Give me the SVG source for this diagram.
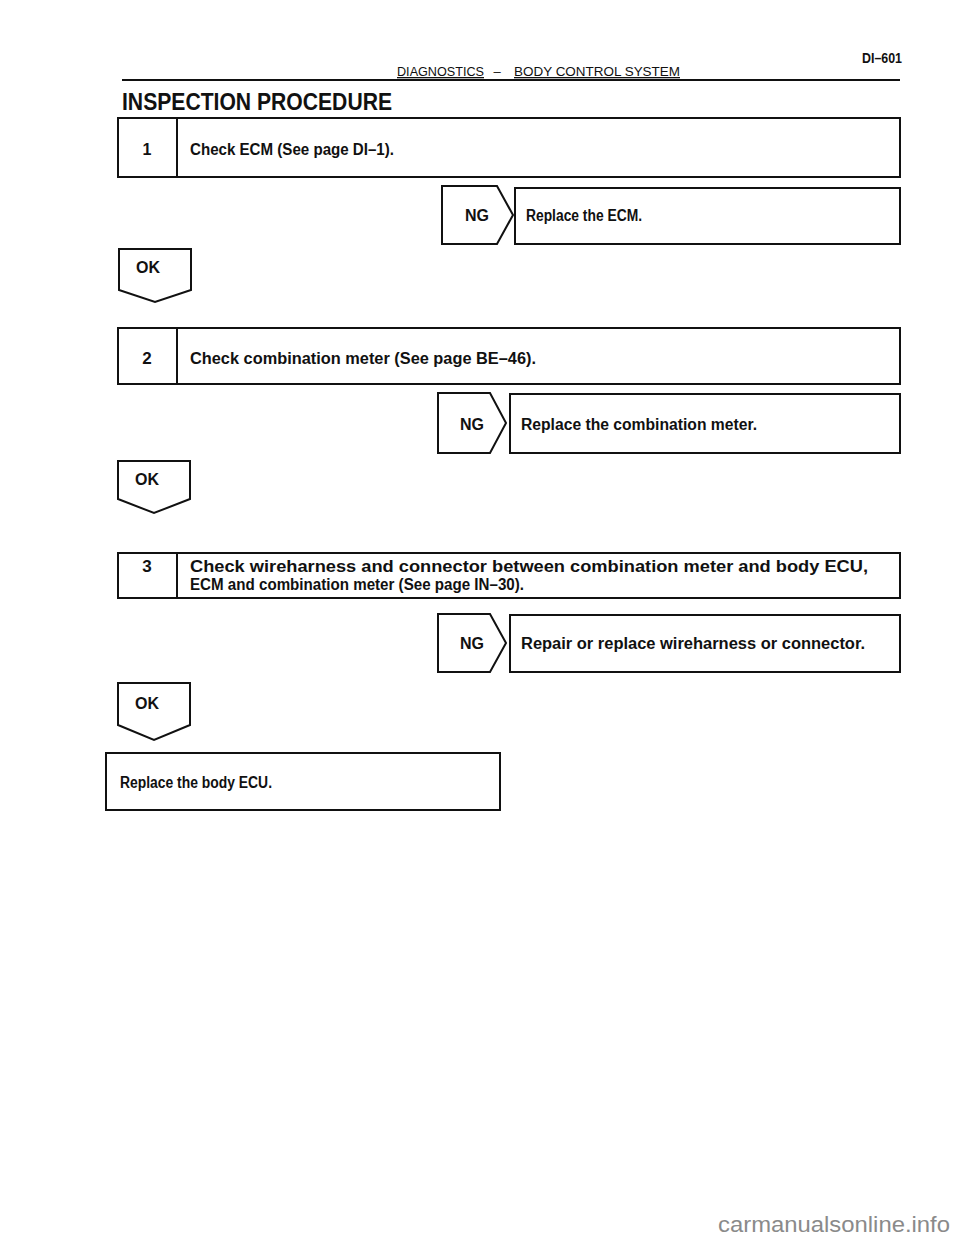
<svg xmlns="http://www.w3.org/2000/svg" width="960" height="1250" viewBox="0 0 960 1250">
<style>
.bx{fill:#fff;stroke:#111;stroke-width:2}
.ln{stroke:#111;stroke-width:2;fill:none}
.t{font-family:"Liberation Sans",Arial,sans-serif;font-weight:bold;fill:#111}
.hd{font-family:"Liberation Sans",Arial,sans-serif;fill:#111}
.wm{font-family:"Liberation Sans",Arial,sans-serif;fill:#8a8a8a}
</style>
<rect width="960" height="1250" fill="#fff"/>
<g id="header">
<text class="t" x="902" y="63" font-size="15" text-anchor="end" textLength="40" lengthAdjust="spacingAndGlyphs">DI–601</text>
<text class="hd" x="397" y="76" font-size="13" textLength="87" lengthAdjust="spacingAndGlyphs" text-decoration="underline">DIAGNOSTICS</text>
<text class="hd" x="497" y="76" font-size="13" text-anchor="middle">–</text>
<text class="hd" x="514" y="76" font-size="13" textLength="166" lengthAdjust="spacingAndGlyphs" text-decoration="underline">BODY CONTROL SYSTEM</text>
<line class="ln" x1="122" y1="80" x2="900" y2="80"/>
<text class="t" x="122" y="110" font-size="23" textLength="270" lengthAdjust="spacingAndGlyphs">INSPECTION PROCEDURE</text>
</g>
<g id="step1">
<rect class="bx" x="118" y="118" width="782" height="59"/>
<line class="ln" x1="177" y1="118" x2="177" y2="177"/>
<text class="t" x="147" y="155" font-size="16" text-anchor="middle">1</text>
<text class="t" x="190" y="155" font-size="17" textLength="204" lengthAdjust="spacingAndGlyphs">Check ECM (See page DI–1).</text>
</g>
<g id="ng1">
<path class="bx" d="M442,186 H497 L513,215 L497,244 H442 Z"/>
<text class="t" x="477" y="221" font-size="16" text-anchor="middle">NG</text>
</g>
<g id="fix1">
<rect class="bx" x="515" y="188" width="385" height="56"/>
<text class="t" x="526" y="221" font-size="16" textLength="116" lengthAdjust="spacingAndGlyphs">Replace the ECM.</text>
</g>
<g id="ok1">
<path class="bx" d="M119,249 H191 V290 L155,302 L119,290 Z"/>
<text class="t" x="148" y="273" font-size="16" text-anchor="middle">OK</text>
</g>
<g id="step2">
<rect class="bx" x="118" y="328" width="782" height="56"/>
<line class="ln" x1="177" y1="328" x2="177" y2="384"/>
<text class="t" x="147" y="364" font-size="17" text-anchor="middle">2</text>
<text class="t" x="190" y="364" font-size="17" textLength="346" lengthAdjust="spacingAndGlyphs">Check combination meter (See page BE–46).</text>
</g>
<g id="ng2">
<path class="bx" d="M438,393 H490 L506,423 L490,453 H438 Z"/>
<text class="t" x="472" y="430" font-size="16" text-anchor="middle">NG</text>
</g>
<g id="fix2">
<rect class="bx" x="510" y="394" width="390" height="59"/>
<text class="t" x="521" y="430" font-size="16" textLength="236" lengthAdjust="spacingAndGlyphs">Replace the combination meter.</text>
</g>
<g id="ok2">
<path class="bx" d="M118,461 H190 V499 L154,513 L118,499 Z"/>
<text class="t" x="147" y="485" font-size="16" text-anchor="middle">OK</text>
</g>
<g id="step3">
<rect class="bx" x="118" y="553" width="782" height="45"/>
<line class="ln" x1="177" y1="553" x2="177" y2="598"/>
<text class="t" x="147" y="572" font-size="17" text-anchor="middle">3</text>
<text class="t" x="190" y="572" font-size="17" textLength="678" lengthAdjust="spacingAndGlyphs">Check wireharness and connector between combination meter and body ECU,</text>
<text class="t" x="190" y="590" font-size="17" textLength="334" lengthAdjust="spacingAndGlyphs">ECM and combination meter (See page IN–30).</text>
</g>
<g id="ng3">
<path class="bx" d="M438,614 H490 L506,643 L490,672 H438 Z"/>
<text class="t" x="472" y="649" font-size="16" text-anchor="middle">NG</text>
</g>
<g id="fix3">
<rect class="bx" x="510" y="615" width="390" height="57"/>
<text class="t" x="521" y="649" font-size="16" textLength="344" lengthAdjust="spacingAndGlyphs">Repair or replace wireharness or connector.</text>
</g>
<g id="ok3">
<path class="bx" d="M118,683 H190 V725 L154,740 L118,725 Z"/>
<text class="t" x="147" y="709" font-size="16" text-anchor="middle">OK</text>
</g>
<g id="final">
<rect class="bx" x="106" y="753" width="394" height="57"/>
<text class="t" x="120" y="788" font-size="16" textLength="152" lengthAdjust="spacingAndGlyphs">Replace the body ECU.</text>
</g>
<g id="connectors"></g>
<g id="watermark">
<text class="wm" x="950" y="1232" font-size="22" text-anchor="end" textLength="232" lengthAdjust="spacingAndGlyphs">carmanualsonline.info</text>
</g>
</svg>
